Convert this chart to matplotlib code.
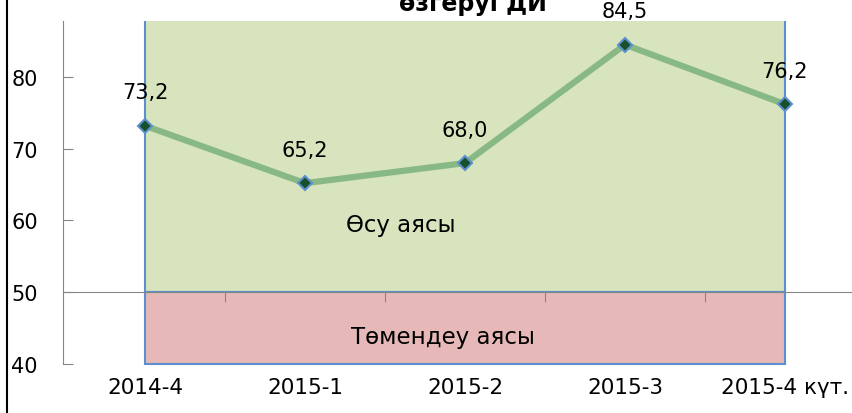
import matplotlib
matplotlib.use("Agg")
import matplotlib.pyplot as plt
from matplotlib.patches import Rectangle
from matplotlib.lines import Line2D

# Chart data
periods = ["2014-4", "2015-1", "2015-2", "2015-3", "2015-4 күт."]
values = [73.2, 65.2, 68.0, 84.5, 76.2]
value_labels = ["73,2", "65,2", "68,0", "84,5", "76,2"]
y_ticks = [40, 50, 60, 70, 80]

# zones: (bottom, top, colour, label, label x, label y)
zone_growth = (50, 100, "#D7E4BD", "Өсу аясы", 1.6, 59.5)
zone_decline = (40, 50, "#E6B9B8", "Төмендеу аясы", 1.86, 43.8)

title = "өзгеруі ДИ"

W, H = 853, 414
fig = plt.figure(figsize=(W / 100, H / 100), dpi=100)
ax = fig.add_axes([63 / W, 1 - 365 / H, 1 - 63 / W, (365 - 22) / H])
ax.set_xlim(-0.5125, 4.425)
ax.set_ylim(40, 87.8)
ax.set_facecolor("none")

x = list(range(len(periods)))

for bottom, top, colour, text, tx, ty in (zone_growth, zone_decline):
    rect = Rectangle((x[0], bottom), x[-1] - x[0], top - bottom,
                     facecolor=colour, edgecolor="#5B8FD0", linewidth=1.5,
                     zorder=0)
    ax.add_patch(rect)
    if top <= 50:
        rect.set_clip_on(False)
    ax.text(tx, ty, text, ha="center", va="center", fontsize=16.5, color="black")

ax.plot(x, values, color="#88B985", linewidth=4.5, zorder=3,
        marker="D", markersize=7.5, markerfacecolor="#17502A",
        markeredgecolor="#5B8FD0", markeredgewidth=1.5)

for xi, v, lab in zip(x, values, value_labels):
    ax.annotate(lab, (xi, v), xytext=(0, 24), textcoords="offset points",
                ha="center", va="center", fontsize=15)

# axes styling
for s in ("top", "right"):
    ax.spines[s].set_visible(False)
ax.spines["left"].set_color("#868686")
ax.spines["bottom"].set_color("#868686")
ax.spines["bottom"].set_position(("data", 50))
ax.spines["bottom"].set_zorder(2)

ax.set_yticks(y_ticks)
ax.tick_params(axis="y", direction="in", length=7, color="#868686",
               labelsize=15, pad=18)

ax.set_xticks([i + 0.5 for i in x[:-1]])
ax.set_xticklabels([])
ax.tick_params(axis="x", direction="out", length=7, color="#868686")

trans = ax.get_xaxis_transform()
for xi, p in zip(x, periods):
    ax.text(xi, -0.067, p, transform=trans, ha="center", va="center",
            fontsize=15.5)

# title is cut off at the top edge in the original
fig.text(473 / W, 1 - 10.5 / H, title, ha="center", va="baseline",
         fontsize=17, fontweight="bold")

fig.add_artist(Line2D([7.5 / W, 7.5 / W], [0, 1], transform=fig.transFigure,
                      color="black", linewidth=1.5))

fig.savefig("out.png", dpi=100)
